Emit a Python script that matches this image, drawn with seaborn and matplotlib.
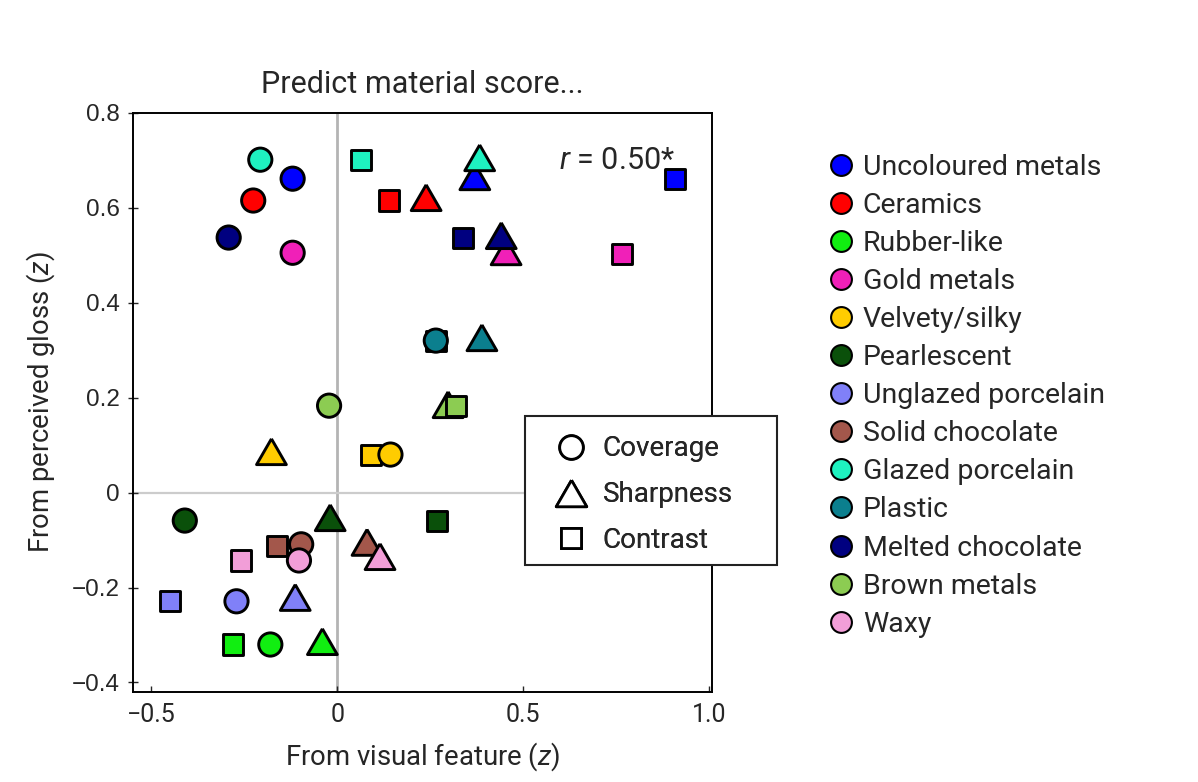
import matplotlib
matplotlib.use("Agg")
import matplotlib.pyplot as plt
import numpy as np
import pandas as pd
import seaborn as sns
from matplotlib.lines import Line2D
from matplotlib.patches import Rectangle

FONT = "Roboto"

materials = [
    "Uncoloured metals", "Ceramics", "Rubber-like", "Gold metals", "Velvety/silky",
    "Pearlescent", "Unglazed porcelain", "Solid chocolate", "Glazed porcelain",
    "Plastic", "Melted chocolate", "Brown metals", "Waxy",
]
colors = [
    "#0000ff", "#ff0000", "#11ee11", "#f020b8", "#ffcc00",
    "#0a500a", "#8080f8", "#a3574b", "#1ef2c0",
    "#0b7f8e", "#000080", "#8ccc52", "#f29ed8",
]

# predictions from each visual feature (x) vs perceived gloss (y)
coverage_x = [-0.12, -0.226, -0.18, -0.12, 0.143, -0.41, -0.271, -0.097, -0.207, 0.265, -0.292, -0.022, -0.103]
coverage_y = [0.661, 0.615, -0.32, 0.505, 0.08, -0.059, -0.229, -0.109, 0.701, 0.32, 0.537, 0.183, -0.143]
sharpness_x = [0.370, 0.239, -0.040, 0.454, -0.177, -0.019, -0.113, 0.080, 0.383, 0.389, 0.441, 0.298, 0.115]
sharpness_y = [0.665, 0.621, -0.314, 0.507, 0.086, -0.053, -0.221, -0.105, 0.705, 0.326, 0.541, 0.185, -0.135]
contrast_x = [0.908, 0.140, -0.280, 0.765, 0.091, 0.268, -0.450, -0.161, 0.064, 0.265, 0.338, 0.320, -0.258]
contrast_y = [0.661, 0.615, -0.32, 0.503, 0.08, -0.059, -0.229, -0.112, 0.701, 0.32, 0.537, 0.183, -0.143]

x_ticks = [-0.5, 0, 0.5, 1.0]
x_ticklabels = ["\u22120.5", "0", "0.5", "1.0"]
y_ticks = [-0.4, -0.2, 0, 0.2, 0.4, 0.6, 0.8]
y_ticklabels = ["\u22120.4", "\u22120.2", "0", "0.2", "0.4", "0.6", "0.8"]

palette = dict(zip(materials, colors))

sns.set_style("ticks")
plt.rcParams["font.family"] = [FONT, "DejaVu Sans"]
plt.rcParams["mathtext.fontset"] = "custom"
plt.rcParams["mathtext.rm"] = FONT
plt.rcParams["mathtext.it"] = f"{FONT}:italic"

# equilateral-ish triangle marker, centred on its bounding box
tri = [(0, 0.866), (-1, -0.866), (1, -0.866), (0, 0.866)]

fig = plt.figure(figsize=(11.98, 7.82), dpi=100)
ax = fig.add_axes([0.1108, 0.1151, 0.4833, 0.7408])

ax.axvline(0, color="#b4b4b4", lw=2.0, zorder=0)
ax.axhline(0, color="#cccccc", lw=1.6, zorder=0)

features = [
    ("Sharpness", sharpness_x, sharpness_y, tri, 460),
    ("Contrast", contrast_x, contrast_y, "s", 210),
    ("Coverage", coverage_x, coverage_y, "o", 280),
]
for z, (name, xs, ys, mk, size) in enumerate(features):
    df = pd.DataFrame({"x": xs, "y": ys, "material": materials})
    sns.scatterplot(data=df, x="x", y="y", hue="material", palette=palette,
                    marker=mk, s=size, edgecolor="black", linewidth=2.1,
                    legend=False, ax=ax, zorder=3 + z)

ax.set_xlim(-0.55, 1.007)
ax.set_ylim(-0.42, 0.8)
ax.set_xticks(x_ticks)
ax.set_xticklabels(x_ticklabels)
ax.set_yticks(y_ticks)
ax.set_yticklabels(y_ticklabels, family=["Liberation Sans", "DejaVu Sans"])
ax.tick_params(axis="x", direction="in", length=4, width=1, labelsize=18, pad=8)
ax.tick_params(axis="y", direction="inout", length=7, width=1, labelsize=17.5, pad=6)
for sp in ax.spines.values():
    sp.set_color("black")
    sp.set_linewidth(1.4)

ax.set_xlabel("From visual feature ($\\it{z}$)", fontsize=19.8)
ax.set_ylabel("From perceived gloss ($\\it{z}$)", fontsize=19.8)
ax.xaxis.set_label_coords(0.5, -0.112)
ax.xaxis.label.set_verticalalignment("center")
ax.yaxis.set_label_coords(-0.160, 0.5)
ax.yaxis.label.set_verticalalignment("center")
ax.set_title("Predict material score...", fontsize=22, pad=14)

ax.text(0.597, 0.70, "$\\it{r}$ = 0.50*", fontsize=22, ha="left", va="center")

# marker-type legend in a box that runs past the right spine
ax.add_patch(Rectangle((0.678, 0.219), 0.435, 0.258, transform=ax.transAxes,
                       facecolor="white", edgecolor="#222222", lw=1.5,
                       clip_on=False, zorder=10))
shape_handles = [
    Line2D([], [], ls="none", marker="o", ms=17, mfc="white", mec="black", mew=2.0),
    Line2D([], [], ls="none", marker=tri, ms=22, mfc="white", mec="black", mew=2.0),
    Line2D([], [], ls="none", marker="s", ms=14, mfc="white", mec="black", mew=2.0),
]
leg_shape = ax.legend(shape_handles, ["Coverage", "Sharpness", "Contrast"],
                      loc="upper left", bbox_to_anchor=(0.728, 0.443), frameon=False,
                      fontsize=20, handlelength=1.2, handletextpad=0.55,
                      labelspacing=0.68, borderpad=0, borderaxespad=0)
leg_shape.set_zorder(11)
ax.add_artist(leg_shape)

color_handles = [
    Line2D([], [], ls="none", marker="o", ms=15, mfc=c, mec="black", mew=1.5)
    for c in colors
]
fig.legend(color_handles, materials, loc="upper left", bbox_to_anchor=(0.690, 0.8037),
           frameon=False, fontsize=20.5, handlelength=1.0, handletextpad=0.27,
           labelspacing=0.39, borderpad=0, borderaxespad=0)

fig.savefig("out.png", dpi=100)
